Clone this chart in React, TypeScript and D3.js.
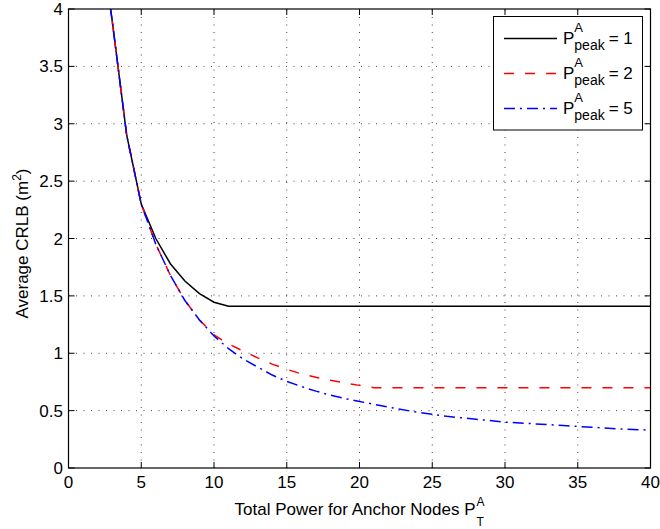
import React from "react";
import * as d3 from "d3";

// ---- data ----
const xTicks = [0, 5, 10, 15, 20, 25, 30, 35, 40];
const yTicks = [0, 0.5, 1, 1.5, 2, 2.5, 3, 3.5, 4];
const yTickLabels = ["0", "0.5", "1", "1.5", "2", "2.5", "3", "3.5", "4"];

const powerPeak1 = [2, 3, 4, 5, 6, 7, 8, 9, 10, 11, 40];
const crlbPeak1 = [4.8, 3.9, 2.9, 2.3, 2.0, 1.78, 1.63, 1.52, 1.445, 1.41, 1.41];

const powerPeak2 = [2, 3, 4, 5, 6, 7, 8, 9, 10, 11, 12, 13, 14, 15, 16, 17, 18, 19, 20, 21, 40];
const crlbPeak2 = [4.8, 3.9, 2.9, 2.3, 1.95, 1.68, 1.46, 1.29, 1.16, 1.08, 1.02, 0.96, 0.905, 0.86, 0.82, 0.79, 0.765, 0.74, 0.72, 0.7, 0.7];

const powerPeak5 = [2, 3, 4, 5, 6, 7, 8, 9, 10, 11, 12, 13, 14, 15, 16, 17, 18, 19, 20, 22, 24, 26, 28, 30, 32, 34, 36, 38, 40];
const crlbPeak5 = [4.8, 3.9, 2.9, 2.3, 1.95, 1.68, 1.46, 1.29, 1.15, 1.04, 0.95, 0.88, 0.81, 0.755, 0.71, 0.67, 0.635, 0.605, 0.58, 0.53, 0.485, 0.45, 0.425, 0.4, 0.385, 0.37, 0.355, 0.34, 0.33];

const legendValues = ["1", "2", "5"];

// ---- layout ----
const W = 660;
const H = 529;
const left = 68.5;
const right = 650.5;
const top = 9;
const bottom = 468;
const FONT = "'Liberation Sans', Arial, Helvetica, sans-serif";

const series = [
  { xs: powerPeak1, ys: crlbPeak1, color: "#000000", dash: "none" },
  { xs: powerPeak2, ys: crlbPeak2, color: "#ff0000", dash: "10,11" },
  { xs: powerPeak5, ys: crlbPeak5, color: "#0000ff", dash: "11,5,2,5" },
];

function textWidth(t: string, size: number): number {
  const c = document.createElement("canvas").getContext("2d");
  if (!c) return t.length * size * 0.55;
  c.font = `${size}px ${FONT}`;
  return c.measureText(t).width;
}

export default function App() {
  const x = d3.scaleLinear().domain([0, 40]).range([left, right]);
  const y = d3.scaleLinear().domain([0, 4]).range([bottom, top]);
  const line = d3
    .line<[number, number]>()
    .x((d) => x(d[0]))
    .y((d) => y(d[1]));

  const tickLen = 6;

  // x label
  const xMain = "Total Power for Anchor Nodes P";
  const xMainW = textWidth(xMain, 17);
  const xLabelStart = (left + right) / 2 - (xMainW + 8) / 2;
  const xBase = 514.5;

  // legend
  const lgX0 = 493.5;
  const lgY0 = 16.5;
  const lgW = 149;
  const lgH = 113.5;
  const rowY = [38.5, 73.5, 108.5];
  const pW = textWidth("P", 17);
  const peakW = textWidth("peak", 14);

  return (
    <div style={{ position: "absolute", left: 0, top: 0 }}>
      <svg width={W} height={H} style={{ display: "block", fontFamily: FONT }}>
        <rect x={0} y={0} width={W} height={H} fill="#fff" />
        <defs>
          <clipPath id="plotclip">
            <rect x={left} y={top} width={right - left} height={bottom - top} />
          </clipPath>
        </defs>
        {/* grid */}
        {xTicks.slice(1, -1).map((t) => (
          <line key={"gx" + t} x1={x(t)} x2={x(t)} y1={bottom} y2={top} stroke="#444" strokeWidth={1} strokeDasharray="1,6.5" />
        ))}
        {yTicks.slice(1, -1).map((t) => (
          <line key={"gy" + t} x1={left} x2={right} y1={y(t)} y2={y(t)} stroke="#444" strokeWidth={1} strokeDasharray="1,6.5" />
        ))}
        {/* data */}
        <g clipPath="url(#plotclip)">
          {series.map((s, i) => (
            <path
              key={i}
              d={line(s.xs.map((v, j) => [v, s.ys[j]] as [number, number])) || ""}
              fill="none"
              stroke={s.color}
              strokeWidth={1.5}
              strokeDasharray={s.dash}
            />
          ))}
        </g>
        {/* ticks */}
        {xTicks.map((t) => (
          <g key={"tx" + t}>
            <line x1={x(t)} x2={x(t)} y1={bottom} y2={bottom - tickLen} stroke="#000" />
            <line x1={x(t)} x2={x(t)} y1={top} y2={top + tickLen} stroke="#000" />
            <text x={x(t)} y={488} fontSize={17} textAnchor="middle" fill="#000">
              {t}
            </text>
          </g>
        ))}
        {yTicks.map((t, i) => (
          <g key={"ty" + t}>
            <line x1={left} x2={left + tickLen} y1={y(t)} y2={y(t)} stroke="#000" />
            <line x1={right} x2={right - tickLen} y1={y(t)} y2={y(t)} stroke="#000" />
            <text x={left - 5.5} y={y(t)} dy="0.36em" fontSize={17} textAnchor="end" fill="#000">
              {yTickLabels[i]}
            </text>
          </g>
        ))}
        {/* axes box */}
        <rect x={left} y={top} width={right - left} height={bottom - top} fill="none" stroke="#000" strokeWidth={1.2} />
        {/* x label */}
        <text x={xLabelStart} y={xBase} fontSize={17} fill="#000">
          {xMain}
        </text>
        <text x={xLabelStart + xMainW} y={xBase - 8.5} fontSize={12} fill="#000">
          A
        </text>
        <text x={xLabelStart + xMainW} y={xBase + 11.5} fontSize={12} fill="#000">
          T
        </text>
        {/* y label */}
        <text transform={`translate(28,${(top + bottom) / 2 + 5}) rotate(-90)`} textAnchor="middle" fontSize={17} fill="#000">
          Average CRLB (m
          <tspan dy={-7} fontSize={12}>2</tspan>
          <tspan dy={7} fontSize={17}>)</tspan>
        </text>
        {/* legend */}
        <rect x={lgX0} y={lgY0} width={lgW} height={lgH} fill="#fff" stroke="#000" strokeWidth={1} />
        {series.map((s, i) => (
          <g key={"lg" + i}>
            <line x1={504} x2={557} y1={rowY[i]} y2={rowY[i]} stroke={s.color} strokeWidth={1.5} strokeDasharray={s.dash} />
            <text x={563} y={rowY[i] + 5} fontSize={17} fill="#000">P</text>
            <text x={563 + pW} y={rowY[i] - 6.5} fontSize={13} fill="#000">A</text>
            <text x={563 + pW} y={rowY[i] + 11.5} fontSize={14} fill="#000">peak</text>
            <text x={563 + pW + peakW + 4} y={rowY[i] + 5} fontSize={17} fill="#000">
              {"= " + legendValues[i]}
            </text>
          </g>
        ))}
      </svg>
    </div>
  );
}
